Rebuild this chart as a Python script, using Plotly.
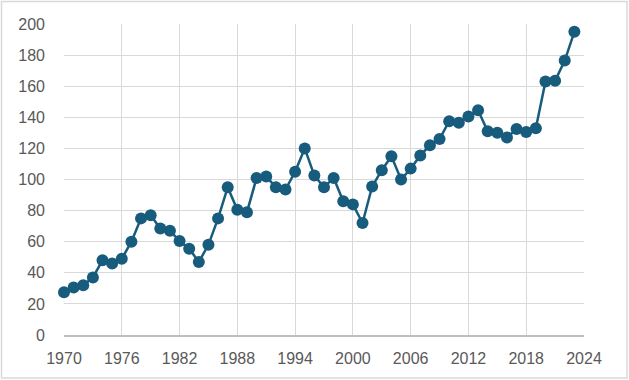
import plotly.graph_objects as go

years = list(range(1970, 2024))
values = [27.5, 30.5, 32, 37, 48, 46, 49, 60, 75, 77,
          68.5, 67, 60.5, 55.5, 47, 58, 75, 95, 80.5, 79,
          101, 102, 95, 93.5, 105, 120, 102.5, 95, 101, 86,
          84, 72, 95.5, 106, 115, 100, 107, 115.5, 122, 126,
          137.5, 136.5, 140.5, 144.5, 131, 130, 127, 132.5, 130.5, 133,
          163, 163.5, 176.5, 195]

line_color = "#175c7d"

fig = go.Figure()
fig.add_trace(go.Scatter(
    x=years, y=values, mode="lines+markers",
    line=dict(color=line_color, width=2.5),
    marker=dict(color=line_color, size=12),
    cliponaxis=False, showlegend=False, hoverinfo="x+y"))

W, H = 629, 380
L, R, T, B = 64, 45, 24, 45
pw, ph = W - L - R, H - T - B

fig.add_shape(type="rect", xref="paper", yref="paper",
              x0=(1.5 - L) / pw, x1=(W - 2 - L) / pw,
              y0=(H - B - (H - 2)) / ph, y1=(H - B - 1.5) / ph,
              line=dict(color="#d9d9d9", width=1.5), layer="below")

font = dict(family="Liberation Sans, Arial, sans-serif", size=16, color="#595959")

fig.update_layout(
    width=W, height=H,
    margin=dict(l=L, r=R, t=T, b=B, pad=0),
    paper_bgcolor="white", plot_bgcolor="white",
    font=font,
    xaxis=dict(range=[1970, 2024], tick0=1970, dtick=6, showgrid=True,
               gridcolor="#d9d9d9", gridwidth=1.3, showline=True,
               linecolor="#bfbfbf", linewidth=1.5, zeroline=False,
               ticks="", ticklabelstandoff=8, tickfont=font, fixedrange=True),
    yaxis=dict(range=[0, 200], tick0=0, dtick=20, showgrid=True,
               gridcolor="#d9d9d9", gridwidth=1.3, showline=False,
               zeroline=False, ticks="", ticklabelstandoff=18,
               tickfont=font, fixedrange=True),
)

fig.write_html("out.html", config={"displayModeBar": False},
               post_script="document.body.style.margin='0';document.body.style.padding='0';")
